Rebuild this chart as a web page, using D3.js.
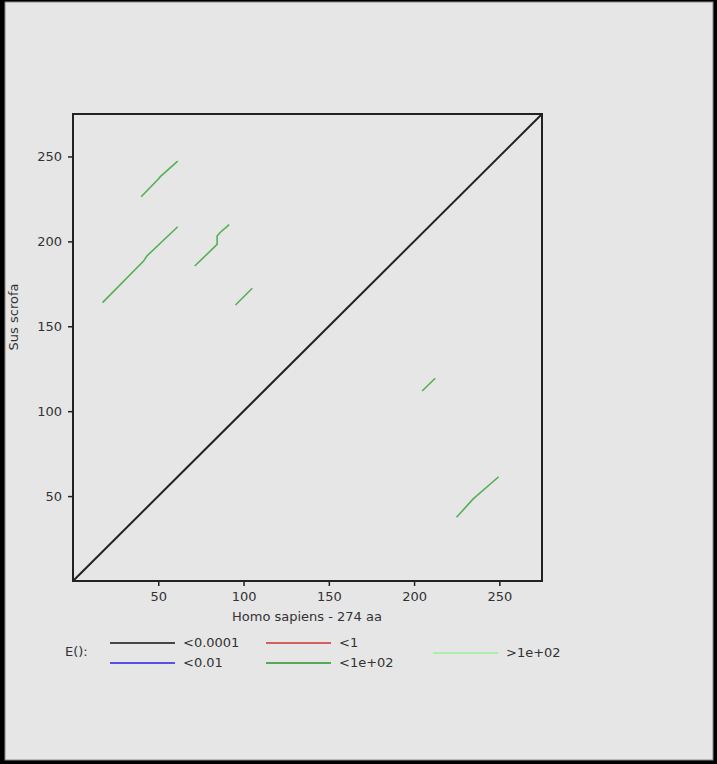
<!DOCTYPE html>
<html>
<head>
<meta charset="utf-8">
<script src="https://cdn.jsdelivr.net/npm/d3@7"></script>
<style>
    html, body { margin: 0; padding: 0; background: #000; }
    svg { display: block; }
    text { font-family: "DejaVu Sans", sans-serif; fill: #333; }
</style>
</head>
<body>
<svg id="chart"></svg>
<script>
// lengths of the two sequences (axis extent)
var seqLength = 275;
var xLabel = "Homo sapiens - 274 aa";
var yLabel = "Sus scrofa";
var tickValues = [50, 100, 150, 200, 250];

// main diagonal, E() < 0.0001
var diagonal = [[0, 0], [275, 275]];

// weaker hits, E() < 1e+02
var greenHits = [
    [[40, 226.3], [50.2, 236.9], [51.2, 238.1], [61.4, 247.2]],
    [[17.3, 163.9], [41.4, 188.4], [43.3, 191.4], [61.4, 208.6]],
    [[71.4, 185.5], [84.5, 198.2], [84.5, 203.1], [86.1, 205.1], [91.6, 209.8]],
    [[95.3, 162.5], [105.1, 172.4]],
    [[204.7, 111.9], [212.4, 119.4]],
    [[224.9, 37.5], [234.5, 48.2], [249.6, 61.4]]
];

var legendLabels = ["<0.0001", "<0.01", "<1", "<1e+02", ">1e+02"];
var legendColors = ["#111111", "#2222ee", "#cc3333", "#229922", "#99ee99"];

var svg = d3.select("#chart")
    .attr("width", 717)
    .attr("height", 764);

// window frame
svg.append("rect")
    .attr("x", 5).attr("y", 2)
    .attr("width", 708).attr("height", 758)
    .attr("fill", "#e6e6e6")
    .attr("stroke", "#888")
    .attr("stroke-width", 1);

var margin = { top: 114, left: 73 };
var width = 469, height = 467;

var x = d3.scaleLinear().domain([0, seqLength]).range([0, width]);
var y = d3.scaleLinear().domain([0, seqLength]).range([height, 0]);

var chart = svg.append("g")
    .attr("transform", "translate(" + margin.left + "," + margin.top + ")");

var xAxis = d3.axisBottom(x).tickValues(tickValues).tickSize(5).tickPadding(6);
var yAxis = d3.axisLeft(y).tickValues(tickValues).tickSize(5).tickPadding(6);

chart.append("g")
    .attr("class", "x axis")
    .attr("transform", "translate(0," + height + ")")
    .call(xAxis);

chart.append("g")
    .attr("class", "y axis")
    .call(yAxis);

chart.selectAll(".axis .domain").remove();
chart.selectAll(".axis .tick line").attr("stroke", "#222").attr("stroke-width", 1.5);
chart.selectAll(".axis text")
    .attr("font-size", 13)
    .attr("fill", "#444")
    .style("font-family", "DejaVu Sans, sans-serif");

chart.append("rect")
    .attr("width", width)
    .attr("height", height)
    .attr("fill", "none")
    .attr("stroke", "#222")
    .attr("stroke-width", 2);

var line = d3.line()
    .x(function(d) { return x(d[0]); })
    .y(function(d) { return y(d[1]); });

chart.append("path")
    .datum(diagonal)
    .attr("d", line)
    .attr("fill", "none")
    .attr("stroke", "#222")
    .attr("stroke-width", 2);

chart.selectAll(".hit")
    .data(greenHits)
.enter().append("path")
    .attr("class", "hit")
    .attr("d", line)
    .attr("fill", "none")
    .attr("stroke", "#55b055")
    .attr("stroke-width", 1.6);

// axis titles
svg.append("text")
    .attr("x", 307)
    .attr("y", 621)
    .attr("text-anchor", "middle")
    .attr("font-size", 13)
    .text(xLabel);

svg.append("text")
    .attr("transform", "translate(18,317) rotate(-90)")
    .attr("text-anchor", "middle")
    .attr("font-size", 13)
    .text(yLabel);

// legend
svg.append("text")
    .attr("x", 65)
    .attr("y", 656)
    .attr("font-size", 13)
    .text("E():");

var legendPos = [[110, 643], [110, 663], [266, 643], [266, 663], [433, 653]];

var legend = svg.selectAll(".legend")
    .data(legendLabels)
.enter().append("g")
    .attr("class", "legend")
    .attr("transform", function(d, i) { return "translate(" + legendPos[i][0] + "," + legendPos[i][1] + ")"; });

legend.append("line")
    .attr("x1", 0).attr("x2", 65)
    .attr("stroke", function(d, i) { return legendColors[i]; })
    .attr("stroke-width", 1.6);

legend.append("text")
    .attr("x", 73)
    .attr("y", 4)
    .attr("font-size", 13)
    .text(function(d) { return d; });
</script>
</body>
</html>
